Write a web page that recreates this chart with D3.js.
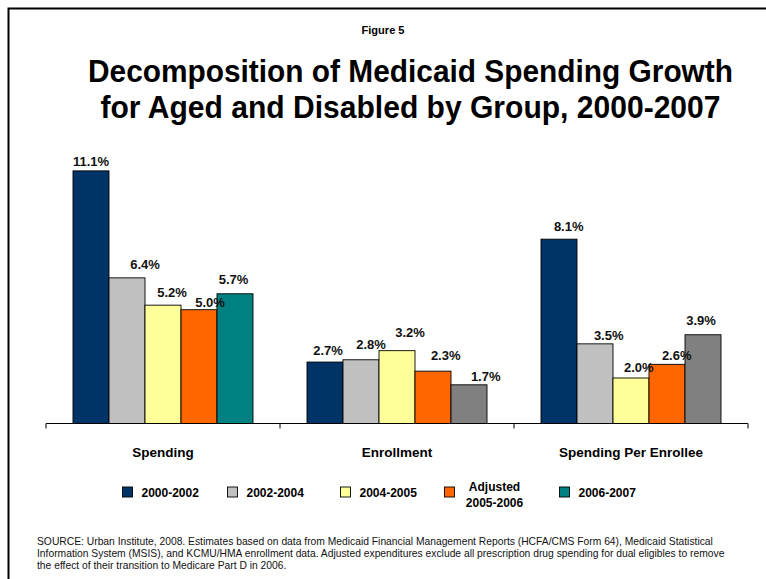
<!DOCTYPE html>
<html>
<head>
<meta charset="utf-8">
<script src="https://cdn.jsdelivr.net/npm/d3@7"></script>
<style>
  html, body { margin: 0; padding: 0; background: #fff; }
  svg { display: block; font-family: "Liberation Sans", Arial, Helvetica, sans-serif; }
</style>
</head>
<body>
<svg id="chart" width="766" height="579"></svg>
<script>
// ---- data ----
const categories = ["Spending", "Enrollment", "Spending Per Enrollee"];
const seriesNames = ["2000-2002", "2002-2004", "2004-2005", "Adjusted 2005-2006", "2006-2007"];
const growth2000_2002 = [11.1, 2.7, 8.1];
const growth2002_2004 = [6.4, 2.8, 3.5];
const growth2004_2005 = [5.2, 3.2, 2.0];
const growth2005_2006Adj = [5.0, 2.3, 2.6];
const growth2006_2007 = [5.7, 1.7, 3.9];
const seriesValues = [growth2000_2002, growth2002_2004, growth2004_2005, growth2005_2006Adj, growth2006_2007];

// ---- styling ----
const seriesColors = ["#003366", "#C0C0C0", "#FFFF99", "#FF6600", "#008080"];
// the last period is shaded gray in the enrollment-based groups
const pointColorOverride = { "Enrollment|4": "#808080", "Spending Per Enrollee|4": "#808080" };
// hand-placed value labels: [dx from bar centre, gap above bar top]
const labelNudge = [
  [[0, 5], [18, 9], [9, 8.5], [11, 2.6], [-1.5, 9.3]],
  [[3, 6.7], [10, 10.7], [13, 13.4], [12.7, 11], [16.7, 3.6]],
  [[9.7, 8.3], [13.7, 4.3], [7.8, 6], [9.7, 4.3], [-2, 9.3]]
];

const svg = d3.select("#chart");

// frame (top and left rules)
svg.append("path")
  .attr("d", "M766,8.5 H8.5 V579")
  .attr("fill", "none").attr("stroke", "#000").attr("stroke-width", 2);

// titles
svg.append("text").attr("x", 383).attr("y", 34)
  .attr("text-anchor", "middle").attr("font-weight", "bold").attr("font-size", 11.5)
  .attr("textLength", 43).attr("lengthAdjust", "spacingAndGlyphs")
  .text("Figure 5");
const titleLines = ["Decomposition of Medicaid Spending Growth", "for Aged and Disabled by Group, 2000-2007"];
const titleWidths = [645, 620];
svg.append("g").selectAll("text").data(titleLines).join("text")
  .attr("text-anchor", "middle").attr("font-weight", "bold").attr("font-size", 31)
  .attr("x", 410.5).attr("y", (d, i) => 82 + i * 36)
  .attr("textLength", (d, i) => titleWidths[i]).attr("lengthAdjust", "spacingAndGlyphs")
  .text(d => d);

// ---- scales ----
const plot = { left: 46, right: 748, baseline: 423.5, top: 150.4 };
const x0 = d3.scaleBand().domain(categories).range([plot.left, plot.right]).padding(0);
const groupInset = (x0.bandwidth() - 180) / 2;
const x1 = d3.scaleBand().domain(d3.range(seriesNames.length))
  .range([groupInset, x0.bandwidth() - groupInset]).padding(0);
const y = d3.scaleLinear().domain([0, 12]).range([plot.baseline, plot.top]);

const fmt = v => d3.format(".1f")(v) + "%";

const points = [];
categories.forEach((c, ci) => seriesValues.forEach((vals, si) => points.push({ c, ci, si, v: vals[ci] })));

// bars
svg.append("g").selectAll("rect").data(points).join("rect")
  .attr("x", d => x0(d.c) + x1(d.si))
  .attr("y", d => y(d.v))
  .attr("width", x1.bandwidth())
  .attr("height", d => y(0) - y(d.v))
  .attr("fill", d => pointColorOverride[d.c + "|" + d.si] || seriesColors[d.si])
  .attr("stroke", "#000").attr("stroke-width", 0.9);

// value labels, drawn above every bar
svg.append("g").selectAll("text").data(points).join("text")
  .attr("x", d => x0(d.c) + x1(d.si) + x1.bandwidth() / 2 + labelNudge[d.ci][d.si][0])
  .attr("y", d => y(d.v) - labelNudge[d.ci][d.si][1])
  .attr("text-anchor", "middle").attr("font-weight", "bold").attr("font-size", 13)
  .attr("fill", "#111")
  .text(d => fmt(d.v));

// ---- category axis ----
const axis = svg.append("g").attr("transform", `translate(0,${plot.baseline})`);
axis.append("line").attr("x1", plot.left).attr("x2", plot.right)
  .attr("stroke", "#000").attr("stroke-width", 1);
const tickXs = categories.map(c => x0(c)).concat([plot.right]);
axis.selectAll("line.tick").data(tickXs).join("line").attr("class", "tick")
  .attr("x1", d => d).attr("x2", d => d).attr("y1", 0).attr("y2", 5)
  .attr("stroke", "#000").attr("stroke-width", 1);
axis.selectAll("text").data(categories).join("text")
  .attr("x", c => x0(c) + x0.bandwidth() / 2).attr("y", 33)
  .attr("text-anchor", "middle").attr("font-weight", "bold").attr("font-size", 13.5)
  .text(c => c);

// ---- legend ----
const legendX = [122.5, 227.5, 340.5, 444.5, 559.5];
const legend = svg.append("g").selectAll("g").data(seriesNames).join("g")
  .attr("transform", (d, i) => `translate(${legendX[i]},487)`);
legend.append("rect").attr("width", 10).attr("height", 10)
  .attr("fill", (d, i) => seriesColors[i]).attr("stroke", "#000").attr("stroke-width", 0.9);
legend.each(function (name) {
  const g = d3.select(this);
  if (name.startsWith("Adjusted")) {
    g.append("text").attr("text-anchor", "middle").attr("font-weight", "bold").attr("font-size", 12)
      .selectAll("tspan").data(["Adjusted", "2005-2006"]).join("tspan")
      .attr("x", 50).attr("y", (d, k) => 4 + k * 16).text(d => d);
  } else {
    g.append("text").attr("x", 19).attr("y", 9.5)
      .attr("font-weight", "bold").attr("font-size", 12).text(name);
  }
});

// ---- source note ----
const sourceLines = [
  "SOURCE: Urban Institute, 2008. Estimates based on data from Medicaid Financial Management Reports (HCFA/CMS Form 64), Medicaid Statistical",
  "Information System (MSIS), and KCMU/HMA enrollment data. Adjusted expenditures exclude all prescription drug spending for dual eligibles to remove",
  "the effect of their transition to Medicare Part D in 2006."
];
svg.append("text").attr("font-size", 10.3).attr("fill", "#111")
  .selectAll("tspan").data(sourceLines).join("tspan")
  .attr("x", 37).attr("y", (d, i) => 545 + i * 12).text(d => d);
</script>
</body>
</html>
